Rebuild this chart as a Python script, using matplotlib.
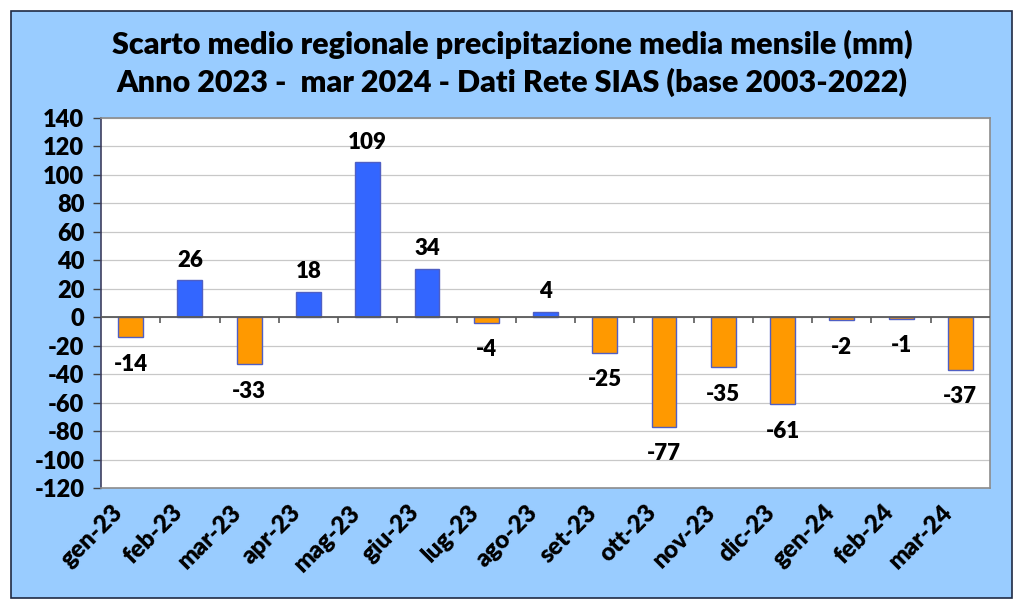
import matplotlib.pyplot as plt
from matplotlib.patches import Rectangle
from matplotlib.transforms import ScaledTranslation
import numpy as np

months = ['gen-23', 'feb-23', 'mar-23', 'apr-23', 'mag-23', 'giu-23', 'lug-23',
          'ago-23', 'set-23', 'ott-23', 'nov-23', 'dic-23', 'gen-24', 'feb-24', 'mar-24']
values = [-14, 26, -33, 18, 109, 34, -4, 4, -25, -77, -35, -61, -2, -1, -37]
yticks = list(range(-120, 141, 20))

plt.rcParams['font.family'] = ['Lato', 'DejaVu Sans']
W = 'heavy'

fig = plt.figure(figsize=(10.24, 6.12), dpi=100)
fig.patch.set_facecolor('white')
# blue frame around the whole chart
fig.patches.append(Rectangle((11 / 1024, 1 - 598 / 612), 1001 / 1024, 587 / 612,
                             transform=fig.transFigure, facecolor='#99ccff',
                             edgecolor='#1f2a44', linewidth=1.2, zorder=-5))

ax = fig.add_axes([101 / 1024, 1 - 488 / 612, 889 / 1024, 370 / 612])
ax.set_zorder(2)
ax.set_facecolor('white')

x = np.arange(len(months))
colors = ['#3366ff' if v > 0 else '#ff9900' for v in values]
ax.bar(x, values, width=0.42, color=colors, edgecolor='#4f5fc4', linewidth=1.0, zorder=3)

for xi, v in zip(x, values):
    if v >= 0:
        ax.text(xi, v + 14, str(v), ha='center', va='center', fontsize=16,
                fontweight=W, zorder=4)
    else:
        ax.text(xi, v - 19, str(v), ha='center', va='center', fontsize=16,
                fontweight=W, zorder=4)

ax.set_xlim(-0.5, len(months) - 0.5)
ax.set_ylim(-120, 140)
ax.set_yticks(yticks)
ax.set_yticklabels([str(t) for t in yticks], fontsize=17, fontweight=W)
ax.yaxis.grid(True, color='#c8c8c8', linewidth=0.9, zorder=0)
ax.set_axisbelow(True)

# zero line with category separator ticks
ax.axhline(0, color='#5a5a5a', linewidth=1.3, zorder=4)
ax.vlines(np.arange(0.5, len(months) - 0.5), -4, 0, color='#5a5a5a', linewidth=1.2, zorder=4)

ax.tick_params(axis='x', length=0, pad=10)
ax.tick_params(axis='y', length=6, width=1, color='#404040', pad=6, direction='out')
ax.set_xticks(x)
ax.set_xticklabels(months, rotation=45, ha='right', va='center', rotation_mode='anchor',
                   fontsize=17.5, fontweight=W)
shift = ScaledTranslation(-0.11, -0.07, fig.dpi_scale_trans)
for lbl in ax.get_xticklabels():
    lbl.set_transform(lbl.get_transform() + shift)

for s in ['top', 'right', 'bottom']:
    ax.spines[s].set_color('#8c8c8c')
    ax.spines[s].set_linewidth(1.2)
ax.spines['left'].set_color('#404060')
ax.spines['left'].set_linewidth(1.2)

fig.text(0.5, 1 - 44 / 612, 'Scarto medio regionale precipitazione media mensile (mm)',
         ha='center', va='center', fontsize=22, fontweight=W)
fig.text(0.5, 1 - 82 / 612, 'Anno 2023 -  mar 2024 - Dati Rete SIAS (base 2003-2022)',
         ha='center', va='center', fontsize=22, fontweight=W)

fig.savefig('out.png', dpi=100)
